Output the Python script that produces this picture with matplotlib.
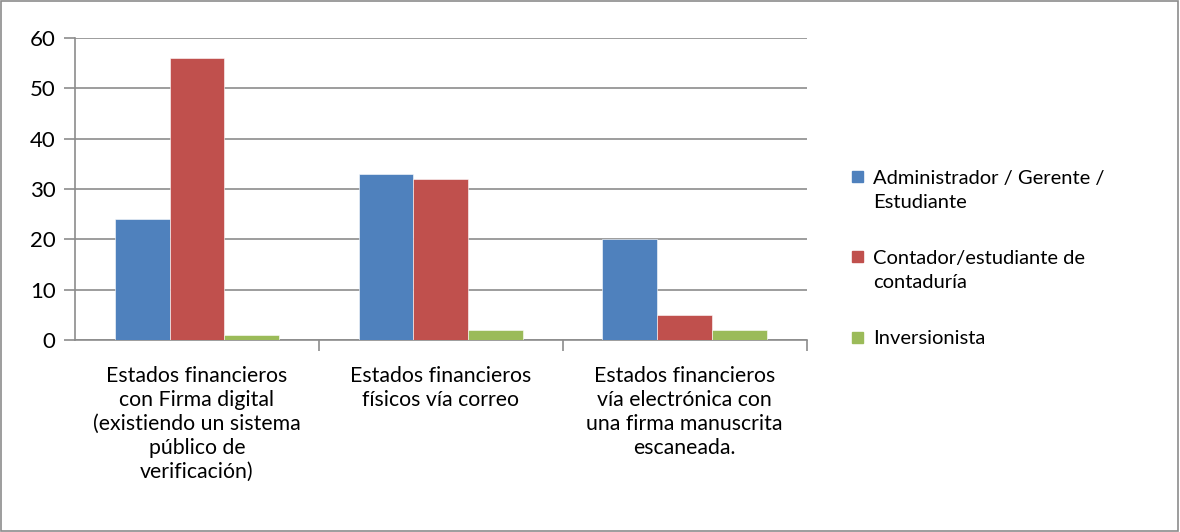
import numpy as np
import matplotlib.pyplot as plt
from matplotlib.patches import Rectangle

plt.rcParams['font.family'] = ['Lato', 'DejaVu Sans']

# data
categories = [
    "Estados financieros\ncon Firma digital\n(existiendo un sistema\npúblico de\nverificación)",
    "Estados financieros\nfísicos vía correo",
    "Estados financieros\nvía electrónica con\nuna firma manuscrita\nescaneada.",
]
series_names = [
    "Administrador / Gerente /\nEstudiante",
    "Contador/estudiante de\ncontaduría",
    "Inversionista",
]
admin = [24, 33, 20]
contador = [56, 32, 5]
inversionista = [1, 2, 2]
yticks = [0, 10, 20, 30, 40, 50, 60]

colors = ["#4f81bd", "#c0504d", "#9bbb59"]
values = [admin, contador, inversionista]

W, H = 1180, 532
fig = plt.figure(figsize=(W / 100, H / 100), dpi=100)
ax = fig.add_axes([0.0636, 0.361, 0.620, 0.5677])

x = np.arange(len(categories))
w = 0.225
for i, (vals, col, name) in enumerate(zip(values, colors, series_names)):
    ax.bar(x + (i - 1) * w, vals, width=w, color=col, label=name,
           edgecolor="white", linewidth=0.4, zorder=3)

ax.set_xlim(-0.5, 2.5)
ax.set_ylim(0, 60)
ax.set_yticks(yticks)
ax.grid(axis="y", color="#8c8c8c", linewidth=1.2, zorder=0)

for s in ["top", "right"]:
    ax.spines[s].set_visible(False)
for s in ["left", "bottom"]:
    ax.spines[s].set_color("#8c8c8c")
    ax.spines[s].set_linewidth(1.2)

ax.set_xticks(x)
ax.set_xticklabels(categories, fontsize=15.3, linespacing=1.25, va="top")
ax.tick_params(axis="x", length=0, pad=19)
ax.set_xticks([0.5, 1.5, 2.5], minor=True)
ax.tick_params(axis="x", which="minor", length=8, width=1.2, color="#8c8c8c", direction="out")
ax.tick_params(axis="y", length=8, width=1.2, color="#8c8c8c", direction="out",
               labelsize=16, pad=6)

# legend, drawn like Excel: square next to first line of each entry
first_line_px = [177, 257, 337]
for name, col, ypx in zip(series_names, colors, first_line_px):
    yc = 1 - ypx / H
    sq = 11
    fig.patches.append(Rectangle((852 / W, yc - sq / 2 / H), sq / W, sq / H,
                                 transform=fig.transFigure, color=col))
    fig.text(873 / W, yc + 7 / H, name, ha="left", va="top", fontsize=14.5,
             linespacing=1.5)

# outer border
fig.patches.append(Rectangle((0.001, 0.002), 0.997, 0.996, transform=fig.transFigure,
                             fill=False, edgecolor="#8c8c8c", linewidth=1.2))

fig.savefig("out.png", dpi=100)
